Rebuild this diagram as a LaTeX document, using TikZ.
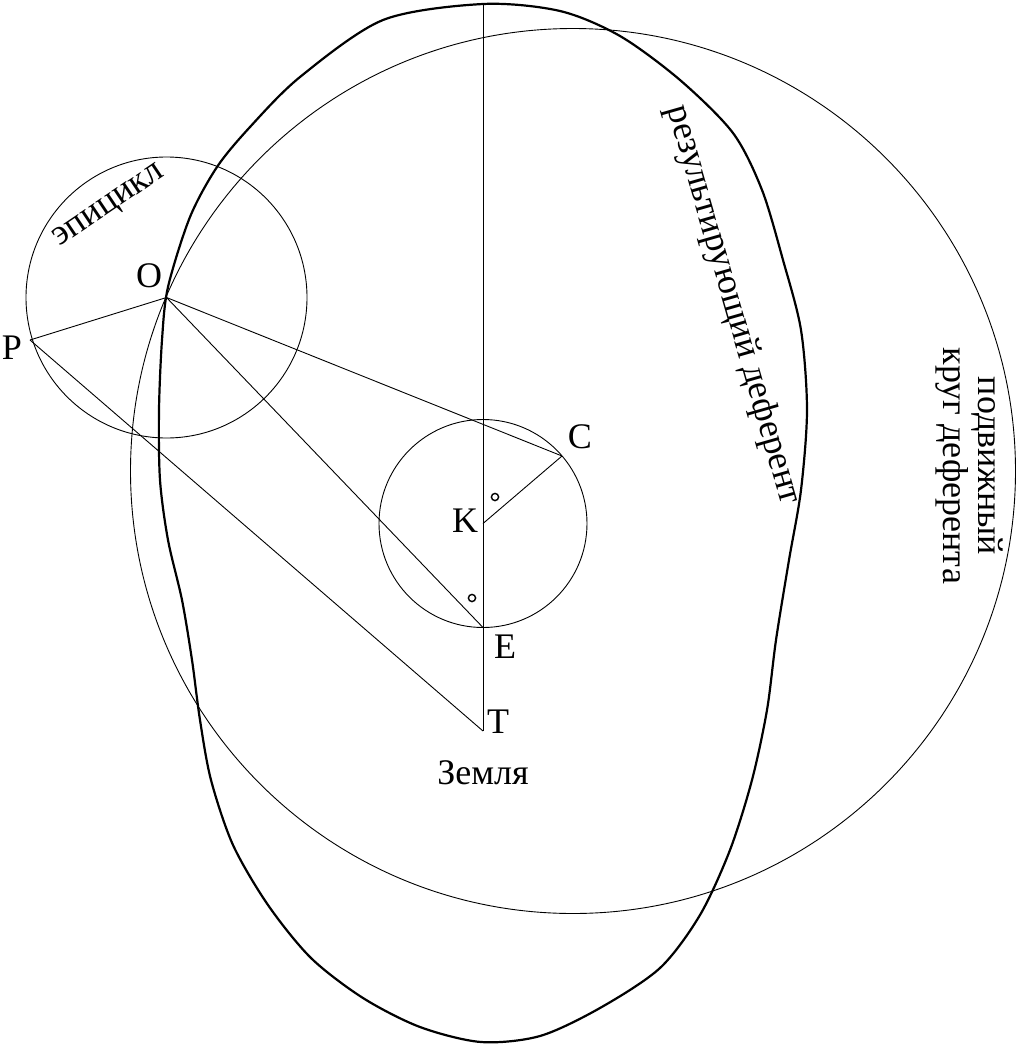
\documentclass[tikz,border=0pt]{standalone}
\usepackage{fontspec}
\setmainfont{Liberation Serif}
\begin{document}
\begin{tikzpicture}[x=1pt,y=-1pt,
  thinline/.style={line width=0.9pt},
  thickline/.style={line width=2.2pt, line join=round},
  lbl/.style={inner sep=0pt, font=\fontsize{36}{35}\selectfont},
  anglemark/.style={line width=1.4pt}]
\useasboundingbox (0,0) rectangle (1017,1045);
% points
\coordinate (O) at (166.5,297.5);
\coordinate (P) at (30,340);
\coordinate (K) at (483,523.5);
\coordinate (C) at (562,456);
\coordinate (E) at (483,627.5);
\coordinate (T) at (483,731);
\coordinate (Top) at (483,4);
\coordinate (M) at (573,471);
% circles
\draw[thinline] (M) circle[radius=442.5];
\draw[thinline] (O) circle[radius=140.5];
\draw[thinline] (K) circle[radius=104];
% resulting deferent
\draw[thickline] plot[smooth cycle] coordinates {
 (483,4) (560,11) (620,36) (680,80) (733,133) (762,190) (783,260) (801,330)
 (807,410) (801,490) (789,560) (776,640) (767,710) (752,780) (730,850)
 (700,915) (660,968) (600,1008) (540,1036) (481,1042) (420,1027) (363,998)
 (311,958) (268,905) (233,845) (211,780) (200,720) (192,660) (182,600)
 (168,540) (160,480) (159,410) (162,340) (168,287) (190,217) (217,167)
 (250,127) (300,77) (383,20)};
% lines
\draw[thinline] (Top) -- (T);
\draw[thinline] (O) -- (P);
\draw[thinline] (P) -- (T);
\draw[thinline] (O) -- (C);
\draw[thinline] (O) -- (E);
\draw[thinline] (K) -- (C);
% angle marks
\draw[anglemark] (495,497) circle[radius=3.6];
\draw[anglemark] (472,598) circle[radius=3.6];
% labels
\node[lbl] (lO) at (149,276) {O};
\node[lbl] (lP) at (12,348) {P};
\node[lbl] (lC) at (580,437) {C};
\node[lbl] (lK) at (465,521) {K};
\node[lbl] (lE) at (505,647) {E};
\node[lbl] (lT) at (498,722) {T};
\node[lbl] (lZ) at (483,773) {Земля};
\node[lbl, rotate=34] (lepi) at (110,207) {эпицикл};
\node[lbl, rotate=-74] (lres) at (733,305) {результирующий деферент};
\node[lbl, rotate=-90, align=center] (lmov) at (969,466) {подвижный\\круг деферента};
\end{tikzpicture}
\end{document}
